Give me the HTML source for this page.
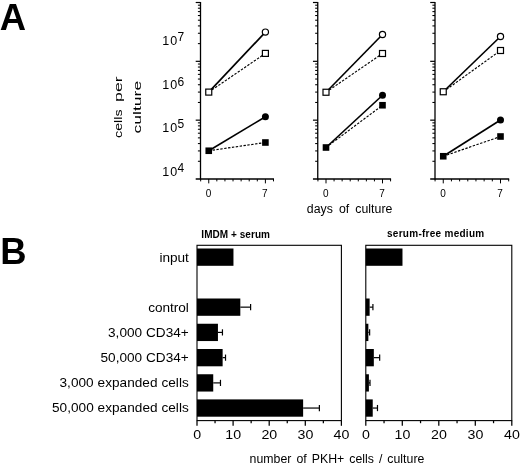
<!DOCTYPE html>
<html><head><meta charset="utf-8"><title>Figure</title>
<style>html,body{margin:0;padding:0;background:#fff}svg{display:block;will-change:transform;filter:grayscale(1)}text{font-family:"Liberation Sans",sans-serif;fill:#000}</style></head>
<body>
<svg width="520" height="464" viewBox="0 0 520 464">
<rect width="520" height="464" fill="#fff"/>
<text x="-0.3" y="29.8" font-size="36.4" font-weight="bold">A</text>
<text x="0.2" y="263.9" font-size="36.4" font-weight="bold">B</text>
<line x1="200.5" y1="2.0" x2="200.5" y2="179.59" stroke="#000" stroke-width="1.3"/>
<line x1="195.7" y1="2.50" x2="200.5" y2="2.50" stroke="#000" stroke-width="1.2"/>
<line x1="197.9" y1="43.62" x2="200.5" y2="43.62" stroke="#000" stroke-width="1.05"/>
<line x1="197.9" y1="33.26" x2="200.5" y2="33.26" stroke="#000" stroke-width="1.05"/>
<line x1="197.9" y1="25.91" x2="200.5" y2="25.91" stroke="#000" stroke-width="1.05"/>
<line x1="197.9" y1="20.21" x2="200.5" y2="20.21" stroke="#000" stroke-width="1.05"/>
<line x1="197.9" y1="15.55" x2="200.5" y2="15.55" stroke="#000" stroke-width="1.05"/>
<line x1="197.9" y1="11.61" x2="200.5" y2="11.61" stroke="#000" stroke-width="1.05"/>
<line x1="197.9" y1="8.20" x2="200.5" y2="8.20" stroke="#000" stroke-width="1.05"/>
<line x1="197.9" y1="5.19" x2="200.5" y2="5.19" stroke="#000" stroke-width="1.05"/>
<line x1="195.7" y1="61.33" x2="200.5" y2="61.33" stroke="#000" stroke-width="1.2"/>
<line x1="197.9" y1="102.45" x2="200.5" y2="102.45" stroke="#000" stroke-width="1.05"/>
<line x1="197.9" y1="92.09" x2="200.5" y2="92.09" stroke="#000" stroke-width="1.05"/>
<line x1="197.9" y1="84.74" x2="200.5" y2="84.74" stroke="#000" stroke-width="1.05"/>
<line x1="197.9" y1="79.04" x2="200.5" y2="79.04" stroke="#000" stroke-width="1.05"/>
<line x1="197.9" y1="74.38" x2="200.5" y2="74.38" stroke="#000" stroke-width="1.05"/>
<line x1="197.9" y1="70.44" x2="200.5" y2="70.44" stroke="#000" stroke-width="1.05"/>
<line x1="197.9" y1="67.03" x2="200.5" y2="67.03" stroke="#000" stroke-width="1.05"/>
<line x1="197.9" y1="64.02" x2="200.5" y2="64.02" stroke="#000" stroke-width="1.05"/>
<line x1="195.7" y1="120.16" x2="200.5" y2="120.16" stroke="#000" stroke-width="1.2"/>
<line x1="197.9" y1="161.28" x2="200.5" y2="161.28" stroke="#000" stroke-width="1.05"/>
<line x1="197.9" y1="150.92" x2="200.5" y2="150.92" stroke="#000" stroke-width="1.05"/>
<line x1="197.9" y1="143.57" x2="200.5" y2="143.57" stroke="#000" stroke-width="1.05"/>
<line x1="197.9" y1="137.87" x2="200.5" y2="137.87" stroke="#000" stroke-width="1.05"/>
<line x1="197.9" y1="133.21" x2="200.5" y2="133.21" stroke="#000" stroke-width="1.05"/>
<line x1="197.9" y1="129.27" x2="200.5" y2="129.27" stroke="#000" stroke-width="1.05"/>
<line x1="197.9" y1="125.86" x2="200.5" y2="125.86" stroke="#000" stroke-width="1.05"/>
<line x1="197.9" y1="122.85" x2="200.5" y2="122.85" stroke="#000" stroke-width="1.05"/>
<line x1="195.7" y1="178.99" x2="273.99" y2="178.99" stroke="#000" stroke-width="1.4"/>
<line x1="200.66" y1="178.99" x2="200.66" y2="181.39" stroke="#000" stroke-width="1"/>
<line x1="208.75" y1="178.99" x2="208.75" y2="183.39" stroke="#000" stroke-width="1"/>
<line x1="216.84" y1="178.99" x2="216.84" y2="181.39" stroke="#000" stroke-width="1"/>
<line x1="224.94" y1="178.99" x2="224.94" y2="181.39" stroke="#000" stroke-width="1"/>
<line x1="233.03" y1="178.99" x2="233.03" y2="181.39" stroke="#000" stroke-width="1"/>
<line x1="241.12" y1="178.99" x2="241.12" y2="181.39" stroke="#000" stroke-width="1"/>
<line x1="249.21" y1="178.99" x2="249.21" y2="181.39" stroke="#000" stroke-width="1"/>
<line x1="257.31" y1="178.99" x2="257.31" y2="181.39" stroke="#000" stroke-width="1"/>
<line x1="265.40" y1="178.99" x2="265.40" y2="183.39" stroke="#000" stroke-width="1"/>
<line x1="273.49" y1="178.99" x2="273.49" y2="181.39" stroke="#000" stroke-width="1"/>
<text x="208.45" y="197.4" font-size="10" text-anchor="middle">0</text>
<text x="264.90" y="197.4" font-size="10" text-anchor="middle">7</text>
<line x1="208.75" y1="92.1" x2="265.4" y2="53.4" stroke="#000" stroke-width="1.15" stroke-dasharray="2.4 1.5"/>
<line x1="208.75" y1="92.1" x2="265.4" y2="32.1" stroke="#000" stroke-width="1.65"/>
<line x1="208.75" y1="150.75" x2="265.4" y2="142.5" stroke="#000" stroke-width="1.15" stroke-dasharray="2.4 1.5"/>
<line x1="208.75" y1="150.75" x2="265.4" y2="116.75" stroke="#000" stroke-width="1.65"/>
<rect x="262.40" y="50.40" width="6.0" height="6.0" fill="#fff" stroke="#000" stroke-width="1.2"/>
<circle cx="265.40" cy="32.10" r="3.1" fill="#fff" stroke="#000" stroke-width="1.2"/>
<rect x="205.75" y="89.10" width="6.0" height="6.0" fill="#fff" stroke="#000" stroke-width="1.2"/>
<rect x="262.10" y="139.20" width="6.6" height="6.6" fill="#000"/>
<circle cx="265.40" cy="116.75" r="3.5" fill="#000"/>
<rect x="205.45" y="147.45" width="6.6" height="6.6" fill="#000"/>
<line x1="317.75" y1="2.0" x2="317.75" y2="179.59" stroke="#000" stroke-width="1.3"/>
<line x1="312.95" y1="2.50" x2="317.75" y2="2.50" stroke="#000" stroke-width="1.2"/>
<line x1="315.15" y1="43.62" x2="317.75" y2="43.62" stroke="#000" stroke-width="1.05"/>
<line x1="315.15" y1="33.26" x2="317.75" y2="33.26" stroke="#000" stroke-width="1.05"/>
<line x1="315.15" y1="25.91" x2="317.75" y2="25.91" stroke="#000" stroke-width="1.05"/>
<line x1="315.15" y1="20.21" x2="317.75" y2="20.21" stroke="#000" stroke-width="1.05"/>
<line x1="315.15" y1="15.55" x2="317.75" y2="15.55" stroke="#000" stroke-width="1.05"/>
<line x1="315.15" y1="11.61" x2="317.75" y2="11.61" stroke="#000" stroke-width="1.05"/>
<line x1="315.15" y1="8.20" x2="317.75" y2="8.20" stroke="#000" stroke-width="1.05"/>
<line x1="315.15" y1="5.19" x2="317.75" y2="5.19" stroke="#000" stroke-width="1.05"/>
<line x1="312.95" y1="61.33" x2="317.75" y2="61.33" stroke="#000" stroke-width="1.2"/>
<line x1="315.15" y1="102.45" x2="317.75" y2="102.45" stroke="#000" stroke-width="1.05"/>
<line x1="315.15" y1="92.09" x2="317.75" y2="92.09" stroke="#000" stroke-width="1.05"/>
<line x1="315.15" y1="84.74" x2="317.75" y2="84.74" stroke="#000" stroke-width="1.05"/>
<line x1="315.15" y1="79.04" x2="317.75" y2="79.04" stroke="#000" stroke-width="1.05"/>
<line x1="315.15" y1="74.38" x2="317.75" y2="74.38" stroke="#000" stroke-width="1.05"/>
<line x1="315.15" y1="70.44" x2="317.75" y2="70.44" stroke="#000" stroke-width="1.05"/>
<line x1="315.15" y1="67.03" x2="317.75" y2="67.03" stroke="#000" stroke-width="1.05"/>
<line x1="315.15" y1="64.02" x2="317.75" y2="64.02" stroke="#000" stroke-width="1.05"/>
<line x1="312.95" y1="120.16" x2="317.75" y2="120.16" stroke="#000" stroke-width="1.2"/>
<line x1="315.15" y1="161.28" x2="317.75" y2="161.28" stroke="#000" stroke-width="1.05"/>
<line x1="315.15" y1="150.92" x2="317.75" y2="150.92" stroke="#000" stroke-width="1.05"/>
<line x1="315.15" y1="143.57" x2="317.75" y2="143.57" stroke="#000" stroke-width="1.05"/>
<line x1="315.15" y1="137.87" x2="317.75" y2="137.87" stroke="#000" stroke-width="1.05"/>
<line x1="315.15" y1="133.21" x2="317.75" y2="133.21" stroke="#000" stroke-width="1.05"/>
<line x1="315.15" y1="129.27" x2="317.75" y2="129.27" stroke="#000" stroke-width="1.05"/>
<line x1="315.15" y1="125.86" x2="317.75" y2="125.86" stroke="#000" stroke-width="1.05"/>
<line x1="315.15" y1="122.85" x2="317.75" y2="122.85" stroke="#000" stroke-width="1.05"/>
<line x1="312.95" y1="178.99" x2="391.07" y2="178.99" stroke="#000" stroke-width="1.4"/>
<line x1="317.93" y1="178.99" x2="317.93" y2="181.39" stroke="#000" stroke-width="1"/>
<line x1="326.00" y1="178.99" x2="326.00" y2="183.39" stroke="#000" stroke-width="1"/>
<line x1="334.07" y1="178.99" x2="334.07" y2="181.39" stroke="#000" stroke-width="1"/>
<line x1="342.14" y1="178.99" x2="342.14" y2="181.39" stroke="#000" stroke-width="1"/>
<line x1="350.21" y1="178.99" x2="350.21" y2="181.39" stroke="#000" stroke-width="1"/>
<line x1="358.29" y1="178.99" x2="358.29" y2="181.39" stroke="#000" stroke-width="1"/>
<line x1="366.36" y1="178.99" x2="366.36" y2="181.39" stroke="#000" stroke-width="1"/>
<line x1="374.43" y1="178.99" x2="374.43" y2="181.39" stroke="#000" stroke-width="1"/>
<line x1="382.50" y1="178.99" x2="382.50" y2="183.39" stroke="#000" stroke-width="1"/>
<line x1="390.57" y1="178.99" x2="390.57" y2="181.39" stroke="#000" stroke-width="1"/>
<text x="325.70" y="197.4" font-size="10" text-anchor="middle">0</text>
<text x="382.00" y="197.4" font-size="10" text-anchor="middle">7</text>
<line x1="326.0" y1="92.25" x2="382.5" y2="53.5" stroke="#000" stroke-width="1.15" stroke-dasharray="2.4 1.5"/>
<line x1="326.0" y1="92.25" x2="382.5" y2="34.5" stroke="#000" stroke-width="1.65"/>
<line x1="326.0" y1="147.5" x2="382.5" y2="105.25" stroke="#000" stroke-width="1.15" stroke-dasharray="2.4 1.5"/>
<line x1="326.0" y1="147.5" x2="382.5" y2="95.25" stroke="#000" stroke-width="1.65"/>
<rect x="379.50" y="50.50" width="6.0" height="6.0" fill="#fff" stroke="#000" stroke-width="1.2"/>
<circle cx="382.50" cy="34.50" r="3.1" fill="#fff" stroke="#000" stroke-width="1.2"/>
<rect x="323.00" y="89.25" width="6.0" height="6.0" fill="#fff" stroke="#000" stroke-width="1.2"/>
<rect x="379.20" y="101.95" width="6.6" height="6.6" fill="#000"/>
<circle cx="382.50" cy="95.25" r="3.5" fill="#000"/>
<rect x="322.70" y="144.20" width="6.6" height="6.6" fill="#000"/>
<line x1="435.0" y1="2.0" x2="435.0" y2="179.59" stroke="#000" stroke-width="1.3"/>
<line x1="430.2" y1="2.50" x2="435.0" y2="2.50" stroke="#000" stroke-width="1.2"/>
<line x1="432.4" y1="43.62" x2="435.0" y2="43.62" stroke="#000" stroke-width="1.05"/>
<line x1="432.4" y1="33.26" x2="435.0" y2="33.26" stroke="#000" stroke-width="1.05"/>
<line x1="432.4" y1="25.91" x2="435.0" y2="25.91" stroke="#000" stroke-width="1.05"/>
<line x1="432.4" y1="20.21" x2="435.0" y2="20.21" stroke="#000" stroke-width="1.05"/>
<line x1="432.4" y1="15.55" x2="435.0" y2="15.55" stroke="#000" stroke-width="1.05"/>
<line x1="432.4" y1="11.61" x2="435.0" y2="11.61" stroke="#000" stroke-width="1.05"/>
<line x1="432.4" y1="8.20" x2="435.0" y2="8.20" stroke="#000" stroke-width="1.05"/>
<line x1="432.4" y1="5.19" x2="435.0" y2="5.19" stroke="#000" stroke-width="1.05"/>
<line x1="430.2" y1="61.33" x2="435.0" y2="61.33" stroke="#000" stroke-width="1.2"/>
<line x1="432.4" y1="102.45" x2="435.0" y2="102.45" stroke="#000" stroke-width="1.05"/>
<line x1="432.4" y1="92.09" x2="435.0" y2="92.09" stroke="#000" stroke-width="1.05"/>
<line x1="432.4" y1="84.74" x2="435.0" y2="84.74" stroke="#000" stroke-width="1.05"/>
<line x1="432.4" y1="79.04" x2="435.0" y2="79.04" stroke="#000" stroke-width="1.05"/>
<line x1="432.4" y1="74.38" x2="435.0" y2="74.38" stroke="#000" stroke-width="1.05"/>
<line x1="432.4" y1="70.44" x2="435.0" y2="70.44" stroke="#000" stroke-width="1.05"/>
<line x1="432.4" y1="67.03" x2="435.0" y2="67.03" stroke="#000" stroke-width="1.05"/>
<line x1="432.4" y1="64.02" x2="435.0" y2="64.02" stroke="#000" stroke-width="1.05"/>
<line x1="430.2" y1="120.16" x2="435.0" y2="120.16" stroke="#000" stroke-width="1.2"/>
<line x1="432.4" y1="161.28" x2="435.0" y2="161.28" stroke="#000" stroke-width="1.05"/>
<line x1="432.4" y1="150.92" x2="435.0" y2="150.92" stroke="#000" stroke-width="1.05"/>
<line x1="432.4" y1="143.57" x2="435.0" y2="143.57" stroke="#000" stroke-width="1.05"/>
<line x1="432.4" y1="137.87" x2="435.0" y2="137.87" stroke="#000" stroke-width="1.05"/>
<line x1="432.4" y1="133.21" x2="435.0" y2="133.21" stroke="#000" stroke-width="1.05"/>
<line x1="432.4" y1="129.27" x2="435.0" y2="129.27" stroke="#000" stroke-width="1.05"/>
<line x1="432.4" y1="125.86" x2="435.0" y2="125.86" stroke="#000" stroke-width="1.05"/>
<line x1="432.4" y1="122.85" x2="435.0" y2="122.85" stroke="#000" stroke-width="1.05"/>
<line x1="430.2" y1="178.99" x2="509.18" y2="178.99" stroke="#000" stroke-width="1.4"/>
<line x1="435.07" y1="178.99" x2="435.07" y2="181.39" stroke="#000" stroke-width="1"/>
<line x1="443.25" y1="178.99" x2="443.25" y2="183.39" stroke="#000" stroke-width="1"/>
<line x1="451.43" y1="178.99" x2="451.43" y2="181.39" stroke="#000" stroke-width="1"/>
<line x1="459.61" y1="178.99" x2="459.61" y2="181.39" stroke="#000" stroke-width="1"/>
<line x1="467.79" y1="178.99" x2="467.79" y2="181.39" stroke="#000" stroke-width="1"/>
<line x1="475.96" y1="178.99" x2="475.96" y2="181.39" stroke="#000" stroke-width="1"/>
<line x1="484.14" y1="178.99" x2="484.14" y2="181.39" stroke="#000" stroke-width="1"/>
<line x1="492.32" y1="178.99" x2="492.32" y2="181.39" stroke="#000" stroke-width="1"/>
<line x1="500.50" y1="178.99" x2="500.50" y2="183.39" stroke="#000" stroke-width="1"/>
<line x1="508.68" y1="178.99" x2="508.68" y2="181.39" stroke="#000" stroke-width="1"/>
<text x="442.95" y="197.4" font-size="10" text-anchor="middle">0</text>
<text x="500.00" y="197.4" font-size="10" text-anchor="middle">7</text>
<line x1="443.25" y1="91.75" x2="500.5" y2="50.5" stroke="#000" stroke-width="1.15" stroke-dasharray="2.4 1.5"/>
<line x1="443.25" y1="91.75" x2="500.5" y2="36.5" stroke="#000" stroke-width="1.65"/>
<line x1="443.25" y1="156.25" x2="500.5" y2="136.5" stroke="#000" stroke-width="1.15" stroke-dasharray="2.4 1.5"/>
<line x1="443.25" y1="156.25" x2="500.5" y2="120.0" stroke="#000" stroke-width="1.65"/>
<rect x="497.50" y="47.50" width="6.0" height="6.0" fill="#fff" stroke="#000" stroke-width="1.2"/>
<circle cx="500.50" cy="36.50" r="3.1" fill="#fff" stroke="#000" stroke-width="1.2"/>
<rect x="440.25" y="88.75" width="6.0" height="6.0" fill="#fff" stroke="#000" stroke-width="1.2"/>
<rect x="497.20" y="133.20" width="6.6" height="6.6" fill="#000"/>
<circle cx="500.50" cy="120.00" r="3.5" fill="#000"/>
<rect x="439.95" y="152.95" width="6.6" height="6.6" fill="#000"/>
<text x="162.3" y="45.1" font-size="12.5" textLength="15.0" lengthAdjust="spacing">10</text>
<text x="177.6" y="40.6" font-size="12">7</text>
<text x="162.3" y="89.1" font-size="12.5" textLength="15.0" lengthAdjust="spacing">10</text>
<text x="177.6" y="85.8" font-size="12">6</text>
<text x="162.3" y="132.2" font-size="12.5" textLength="15.0" lengthAdjust="spacing">10</text>
<text x="177.6" y="127.9" font-size="12">5</text>
<text x="162.3" y="176.0" font-size="12.5" textLength="15.0" lengthAdjust="spacing">10</text>
<text x="177.6" y="172.3" font-size="12">4</text>
<text transform="translate(121.8,137.9) rotate(-90)" font-size="11.6" textLength="28.4" lengthAdjust="spacingAndGlyphs">cells</text>
<text transform="translate(121.8,101.9) rotate(-90)" font-size="11.6" textLength="25.6" lengthAdjust="spacingAndGlyphs">per</text>
<text transform="translate(140.7,133.4) rotate(-90)" font-size="11.6" textLength="52.6" lengthAdjust="spacingAndGlyphs">culture</text>
<text x="306.8" y="213.2" font-size="12.3" textLength="85.6" lengthAdjust="spacing" style="word-spacing:2.5px">days of culture</text>
<rect x="197.0" y="245.3" width="144.39999999999998" height="175.3" fill="none" stroke="#000" stroke-width="1.1"/>
<text x="201.3" y="238.1" font-size="10" font-weight="bold" textLength="68.7" lengthAdjust="spacing">IMDM + serum</text>
<line x1="197.00" y1="420.6" x2="197.00" y2="425.8" stroke="#000" stroke-width="1.25"/>
<text x="193.15" y="439.4" font-size="12.6" textLength="7.9" lengthAdjust="spacingAndGlyphs">0</text>
<line x1="215.05" y1="420.6" x2="215.05" y2="423.20000000000005" stroke="#000" stroke-width="1.25"/>
<line x1="233.10" y1="420.6" x2="233.10" y2="425.8" stroke="#000" stroke-width="1.25"/>
<text x="225.30" y="439.4" font-size="12.6" textLength="15.8" lengthAdjust="spacingAndGlyphs">10</text>
<line x1="251.15" y1="420.6" x2="251.15" y2="423.20000000000005" stroke="#000" stroke-width="1.25"/>
<line x1="269.20" y1="420.6" x2="269.20" y2="425.8" stroke="#000" stroke-width="1.25"/>
<text x="261.40" y="439.4" font-size="12.6" textLength="15.8" lengthAdjust="spacingAndGlyphs">20</text>
<line x1="287.25" y1="420.6" x2="287.25" y2="423.20000000000005" stroke="#000" stroke-width="1.25"/>
<line x1="305.30" y1="420.6" x2="305.30" y2="425.8" stroke="#000" stroke-width="1.25"/>
<text x="297.50" y="439.4" font-size="12.6" textLength="15.8" lengthAdjust="spacingAndGlyphs">30</text>
<line x1="323.35" y1="420.6" x2="323.35" y2="423.20000000000005" stroke="#000" stroke-width="1.25"/>
<line x1="341.40" y1="420.6" x2="341.40" y2="425.8" stroke="#000" stroke-width="1.25"/>
<text x="333.60" y="439.4" font-size="12.6" textLength="15.8" lengthAdjust="spacingAndGlyphs">40</text>
<rect x="197.0" y="248.5" width="36.46" height="17.3" fill="#000"/>
<rect x="197.0" y="298.5" width="43.32" height="17.3" fill="#000"/>
<line x1="240.32" y1="307.15" x2="250.61" y2="307.15" stroke="#000" stroke-width="1.2"/>
<line x1="250.61" y1="304.05" x2="250.61" y2="310.25" stroke="#000" stroke-width="1.2"/>
<rect x="197.0" y="323.75" width="20.94" height="17.3" fill="#000"/>
<line x1="217.94" y1="332.40" x2="222.45" y2="332.40" stroke="#000" stroke-width="1.2"/>
<line x1="222.45" y1="329.30" x2="222.45" y2="335.50" stroke="#000" stroke-width="1.2"/>
<rect x="197.0" y="349.0" width="25.63" height="17.3" fill="#000"/>
<line x1="222.63" y1="357.65" x2="225.52" y2="357.65" stroke="#000" stroke-width="1.2"/>
<line x1="225.52" y1="354.55" x2="225.52" y2="360.75" stroke="#000" stroke-width="1.2"/>
<rect x="197.0" y="374.25" width="16.24" height="17.3" fill="#000"/>
<line x1="213.25" y1="382.90" x2="220.47" y2="382.90" stroke="#000" stroke-width="1.2"/>
<line x1="220.47" y1="379.80" x2="220.47" y2="386.00" stroke="#000" stroke-width="1.2"/>
<rect x="197.0" y="399.4" width="106.13" height="17.3" fill="#000"/>
<line x1="303.13" y1="408.05" x2="319.38" y2="408.05" stroke="#000" stroke-width="1.2"/>
<line x1="319.38" y1="404.95" x2="319.38" y2="411.15" stroke="#000" stroke-width="1.2"/>
<rect x="365.8" y="245.3" width="146.0" height="175.3" fill="none" stroke="#000" stroke-width="1.1"/>
<text x="387" y="237.4" font-size="10" font-weight="bold" textLength="97.2" lengthAdjust="spacing">serum-free medium</text>
<line x1="365.80" y1="420.6" x2="365.80" y2="425.8" stroke="#000" stroke-width="1.25"/>
<text x="361.95" y="439.4" font-size="12.6" textLength="7.9" lengthAdjust="spacingAndGlyphs">0</text>
<line x1="384.05" y1="420.6" x2="384.05" y2="423.20000000000005" stroke="#000" stroke-width="1.25"/>
<line x1="402.30" y1="420.6" x2="402.30" y2="425.8" stroke="#000" stroke-width="1.25"/>
<text x="394.50" y="439.4" font-size="12.6" textLength="15.8" lengthAdjust="spacingAndGlyphs">10</text>
<line x1="420.55" y1="420.6" x2="420.55" y2="423.20000000000005" stroke="#000" stroke-width="1.25"/>
<line x1="438.80" y1="420.6" x2="438.80" y2="425.8" stroke="#000" stroke-width="1.25"/>
<text x="431.00" y="439.4" font-size="12.6" textLength="15.8" lengthAdjust="spacingAndGlyphs">20</text>
<line x1="457.05" y1="420.6" x2="457.05" y2="423.20000000000005" stroke="#000" stroke-width="1.25"/>
<line x1="475.30" y1="420.6" x2="475.30" y2="425.8" stroke="#000" stroke-width="1.25"/>
<text x="467.50" y="439.4" font-size="12.6" textLength="15.8" lengthAdjust="spacingAndGlyphs">30</text>
<line x1="493.55" y1="420.6" x2="493.55" y2="423.20000000000005" stroke="#000" stroke-width="1.25"/>
<line x1="511.80" y1="420.6" x2="511.80" y2="425.8" stroke="#000" stroke-width="1.25"/>
<text x="504.00" y="439.4" font-size="12.6" textLength="15.8" lengthAdjust="spacingAndGlyphs">40</text>
<rect x="365.8" y="248.5" width="36.68" height="17.3" fill="#000"/>
<rect x="365.8" y="298.5" width="3.83" height="17.3" fill="#000"/>
<line x1="369.63" y1="307.15" x2="372.92" y2="307.15" stroke="#000" stroke-width="1.2"/>
<line x1="372.92" y1="304.05" x2="372.92" y2="310.25" stroke="#000" stroke-width="1.2"/>
<rect x="365.8" y="323.75" width="2.55" height="17.3" fill="#000"/>
<line x1="368.36" y1="332.40" x2="369.63" y2="332.40" stroke="#000" stroke-width="1.2"/>
<line x1="369.63" y1="329.30" x2="369.63" y2="335.50" stroke="#000" stroke-width="1.2"/>
<rect x="365.8" y="349.0" width="8.03" height="17.3" fill="#000"/>
<line x1="373.83" y1="357.65" x2="379.67" y2="357.65" stroke="#000" stroke-width="1.2"/>
<line x1="379.67" y1="354.55" x2="379.67" y2="360.75" stroke="#000" stroke-width="1.2"/>
<rect x="365.8" y="374.25" width="3.10" height="17.3" fill="#000"/>
<line x1="368.90" y1="382.90" x2="370.00" y2="382.90" stroke="#000" stroke-width="1.2"/>
<line x1="370.00" y1="379.80" x2="370.00" y2="386.00" stroke="#000" stroke-width="1.2"/>
<rect x="365.8" y="399.4" width="6.93" height="17.3" fill="#000"/>
<line x1="372.74" y1="408.05" x2="377.48" y2="408.05" stroke="#000" stroke-width="1.2"/>
<line x1="377.48" y1="404.95" x2="377.48" y2="411.15" stroke="#000" stroke-width="1.2"/>
<text x="159.4" y="261.5" font-size="13.6" textLength="29.35" lengthAdjust="spacing">input</text>
<text x="148.3" y="311.5" font-size="13.6" textLength="40.45" lengthAdjust="spacing">control</text>
<text x="108" y="336.6" font-size="13.6" textLength="80.75" lengthAdjust="spacing">3,000 CD34+</text>
<text x="100.5" y="361.6" font-size="13.6" textLength="88.25" lengthAdjust="spacing">50,000 CD34+</text>
<text x="59.5" y="386.6" font-size="13.6" textLength="129.25" lengthAdjust="spacing">3,000 expanded cells</text>
<text x="52" y="411.6" font-size="13.6" textLength="136.75" lengthAdjust="spacing">50,000 expanded cells</text>
<text x="249.6" y="462.6" font-size="12.3" textLength="174.8" lengthAdjust="spacing" style="word-spacing:1.5px">number of PKH+ cells / culture</text>
</svg></body></html>
